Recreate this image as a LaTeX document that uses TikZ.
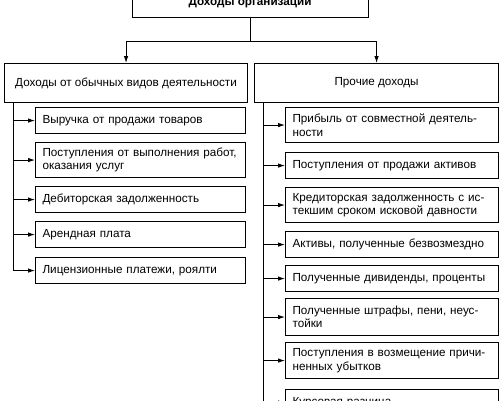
\documentclass[tikz,border=0pt]{standalone}
\usepackage{fontspec}
\setmainfont{Liberation Sans}
\usetikzlibrary{arrows.meta}
\begin{document}
\begin{tikzpicture}[x=1pt,y=-1pt,
  every node/.style={font=\fontsize{11.7}{13.5}\selectfont},
  hbox/.style={draw, line width=1.1pt, rectangle, inner sep=0pt, anchor=north west},
  cbox/.style={draw, line width=1.1pt, rectangle, anchor=north west, inner xsep=7pt, inner ysep=0pt, align=left},
  lw/.style={cbox, text width=196pt, minimum width=210pt},
  rw/.style={cbox, text width=199pt, minimum width=213pt},
  one/.style={minimum height=26pt},
  two/.style={minimum height=35pt},
  conn/.style={line width=0.9pt},
  arr/.style={conn, -{Latex[length=7pt,width=4.5pt]}}
]
\useasboundingbox (0,0) rectangle (500,400);
% top
\node[hbox, minimum width=236pt, minimum height=47pt] (top) at (132,-30) {};
\node[font=\fontsize{11.7}{13.5}\selectfont\bfseries] (toptxt) at (250,3) {Доходы организации};
\node[hbox, minimum width=243pt, minimum height=39pt] (L) at (4,63) {Доходы от обычных видов деятельности};
\node[hbox, minimum width=244pt, minimum height=39pt] (R) at (254,63) {Прочие доходы};
\coordinate (hy) at (0,41);
\draw[arr] (top.south) -- (top.south |- hy) -| (L.north);
\draw[arr] (top.south) -- (top.south |- hy) -| (R.north);
% left children
\node[lw, one] (l1) at (35,107) {Выручка от продажи товаров};
\node[lw, two] (l2) at (35,142) {Поступления от выполнения работ,\\оказания услуг};
\node[lw, one] (l3) at (35,186) {Дебиторская задолженность};
\node[lw, one] (l4) at (35,221) {Арендная плата};
\node[lw, one] (l5) at (35,257) {Лицензионные платежи, роялти};
% right children
\node[rw, two] (r1) at (285,107) {Прибыль от совместной деятель-\\ности};
\node[rw, one] (r2) at (285,152) {Поступления от продажи активов};
\node[rw, two] (r3) at (285,187) {Кредиторская задолженность с ис-\\текшим сроком исковой давности};
\node[rw, one] (r4) at (285,231) {Активы, полученные безвозмездно};
\node[rw, one] (r5) at (285,265) {Полученные дивиденды, проценты};
\node[rw, two, minimum height=37pt] (r6) at (285,298) {Полученные штрафы, пени, неус-\\тойки};
\node[rw, two, minimum height=36pt] (r7) at (285,342) {Поступления в возмещение причи-\\ненных убытков};
\node[rw, one] (r8) at (285,389) {Курсовая разница};
% trunks
\coordinate (lt) at ([xshift=9pt]L.south west);
\coordinate (rt) at ([xshift=9pt]R.south west);
\draw[conn] (lt) -- (lt |- l5.west);
\draw[conn] (rt) -- (rt |- r8.south);
\foreach \n in {l1,l2,l3,l4,l5} \draw[arr] (lt |- \n.west) -- (\n.west);
\foreach \n in {r1,r2,r3,r4,r5,r6,r7,r8} \draw[arr] (rt |- \n.west) -- (\n.west);
\end{tikzpicture}
\end{document}
